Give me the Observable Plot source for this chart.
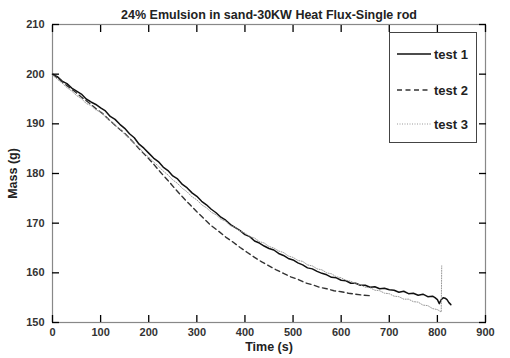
<!DOCTYPE html>
<html>
<head>
<meta charset="utf-8">
<script src="https://cdn.jsdelivr.net/npm/d3@7"></script>
<script src="https://cdn.jsdelivr.net/npm/@observablehq/plot@0.6"></script>
<style>
  html, body { margin: 0; padding: 0; background: #fff; }
  #wrap { position: relative; width: 510px; height: 358px; font-family: "Liberation Sans", Arial, sans-serif; }
  #title { position: absolute; left: 52px; width: 434px; top: 8px; text-align: center; font-weight: bold; font-size: 12.5px; color: #222; }
  #legend { position: absolute; left: 389px; top: 32px; width: 88px; height: 111px; border: 1px solid #444; background: #fff; box-sizing: border-box; }
  .li { position: absolute; left: 7px; height: 16px; display: flex; align-items: center; font-weight: bold; font-size: 13px; color: #222; }
  .li svg { margin-right: 3px; }
</style>
</head>
<body>
<div id="wrap">
  <div id="chart"></div>
  <div id="title">24% Emulsion in sand-30KW Heat Flux-Single rod</div>
  <div id="legend"></div>
</div>
<script>
const seriesNames = ["test 1", "test 2", "test 3"];
const xTicks = [0, 100, 200, 300, 400, 500, 600, 700, 800, 900];
const yTicks = [150, 160, 170, 180, 190, 200, 210];

const test1Time = [0,10,20,30,40,50,60,70,80,90,100,110,120,130,140,150,160,170,180,190,200,210,220,230,240,250,260,270,280,290,300,310,320,330,340,350,360,370,380,390,400,410,420,430,440,450,460,470,480,490,500,510,520,530,540,550,560,570,580,590,600,610,620,630,640,650,660,670,680,690,700,710,720,730,740,750,760,770,780,790,795,800,804,808,812,816,820,824,828];
const test1Mass = [200.0,199.5,198.6,198.1,197.2,196.6,196.0,195.0,194.4,193.9,193.2,192.6,191.5,190.9,189.9,189.1,188.0,187.2,185.9,185.1,184.1,183.1,182.4,181.3,180.6,179.5,178.9,177.8,177.1,176.1,175.4,174.4,173.7,172.8,172.1,171.2,170.6,169.7,169.1,168.5,167.7,167.3,166.4,166.0,165.4,164.9,164.6,163.9,163.5,162.9,162.6,162.0,161.6,161.0,160.8,160.3,159.9,159.6,159.1,159.0,158.5,158.4,157.9,157.9,157.5,157.5,157.1,157.2,156.8,156.9,156.6,156.5,156.1,156.3,155.8,155.9,155.5,155.7,155.2,155.3,155.0,154.6,153.8,154.6,155.0,154.9,154.6,154.0,153.6];

const test2Time = [0,15,30,45,60,75,90,105,120,135,150,165,180,195,210,225,240,255,270,285,300,315,330,345,360,375,390,405,420,435,450,465,480,495,510,525,540,555,570,585,600,615,630,645,660,665];
const test2Mass = [200.0,198.9,197.7,196.6,195.4,194.3,193.1,192.0,190.6,189.3,188.1,186.6,185.0,183.5,181.9,180.2,178.6,176.9,175.3,173.8,172.3,170.9,169.5,168.4,167.2,166.2,165.1,164.1,163.1,162.2,161.4,160.6,159.9,159.2,158.7,158.0,157.6,157.1,156.8,156.4,156.2,155.9,155.7,155.5,155.4,155.3];

const test3Time = [0,10,20,30,40,50,60,70,80,90,100,110,120,130,140,150,160,170,180,190,200,210,220,230,240,250,260,270,280,290,300,310,320,330,340,350,360,370,380,390,400,410,420,430,440,450,460,470,480,490,500,510,520,530,540,550,560,570,580,590,600,610,620,630,640,650,660,670,680,690,700,710,720,730,740,750,760,770,780,790,800,808,809];
const test3Mass = [199.8,199.0,198.2,197.3,196.6,195.7,195.1,194.1,193.7,192.8,192.4,191.4,190.7,189.7,189.0,187.9,187.2,186.0,185.2,184.1,183.3,182.3,181.5,180.5,179.7,178.7,178.0,177.0,176.3,175.3,174.7,173.7,173.1,172.2,171.7,170.8,170.4,169.5,169.1,168.4,168.0,167.3,167.0,166.3,166.0,165.3,165.0,164.4,164.1,163.4,163.1,162.5,162.3,161.6,161.4,160.8,160.6,160.0,159.8,159.2,159.0,158.5,158.3,157.8,157.6,157.1,157.0,156.5,156.4,155.9,155.8,155.3,155.2,154.7,154.7,154.2,154.1,153.5,153.4,152.8,152.6,152.1,161.4];

const styles = [
  {stroke: "#111", strokeWidth: 1.5, dash: null},
  {stroke: "#333", strokeWidth: 1.4, dash: "5,3.5"},
  {stroke: "#999", strokeWidth: 1, dash: "1,1.5"}
];

const series = [
  test1Time.map((t, i) => ({t, m: test1Mass[i]})),
  test2Time.map((t, i) => ({t, m: test2Mass[i]})),
  test3Time.map((t, i) => ({t, m: test3Mass[i]}))
];

const axisFont = {fontWeight: "bold", fontSize: 11, fill: "#333"};
const tickStyle = {tickSize: -7, tickFormat: () => "", label: null, stroke: "black", strokeWidth: 1.3};

const plot = Plot.plot({
  width: 510,
  height: 358,
  marginLeft: 52,
  marginRight: 25,
  marginTop: 24,
  marginBottom: 36,
  style: {fontFamily: "Liberation Sans, Arial, sans-serif", background: "#fff"},
  x: {domain: [0, 900]},
  y: {domain: [150, 210]},
  marks: [
    ...series.map((d, i) => Plot.line(d, {x: "t", y: "m", stroke: styles[i].stroke, strokeWidth: styles[i].strokeWidth, strokeDasharray: styles[i].dash})),
    Plot.frame({stroke: "#888", strokeWidth: 1.2}),
    Plot.axisX(xTicks, {anchor: "bottom", ...tickStyle}),
    Plot.axisX(xTicks, {anchor: "top", ...tickStyle}),
    Plot.axisY(yTicks, {anchor: "left", ...tickStyle}),
    Plot.axisY(yTicks, {anchor: "right", ...tickStyle}),
    Plot.axisX(xTicks, {anchor: "bottom", tickSize: 0, tickPadding: 6, ...axisFont, label: "Time (s)", labelAnchor: "center", labelArrow: "none", labelOffset: 28}),
    Plot.axisY(yTicks, {anchor: "left", tickSize: 0, tickPadding: 8, ...axisFont, label: "Mass (g)", labelAnchor: "center", labelArrow: "none", labelOffset: 44})
  ]
});
document.getElementById("chart").appendChild(plot);

plot.querySelectorAll("g[aria-label='x-axis label'] text, g[aria-label='y-axis label'] text").forEach(t => {
  t.setAttribute("font-weight", "bold");
  t.setAttribute("font-size", "12.5");
  t.setAttribute("fill", "#222");
});

const legend = document.getElementById("legend");
const rowsTop = [13, 49, 83];
seriesNames.forEach((name, i) => {
  const row = document.createElement("div");
  row.className = "li";
  row.style.top = rowsTop[i] + "px";
  const s = styles[i];
  row.innerHTML = `<svg width="34" height="10"><line x1="0" x2="34" y1="5" y2="5" stroke="${s.stroke}" stroke-width="${s.strokeWidth}" ${s.dash ? `stroke-dasharray="${s.dash}"` : ""}/></svg><span>${name}</span>`;
  legend.appendChild(row);
});
</script>
</body>
</html>
